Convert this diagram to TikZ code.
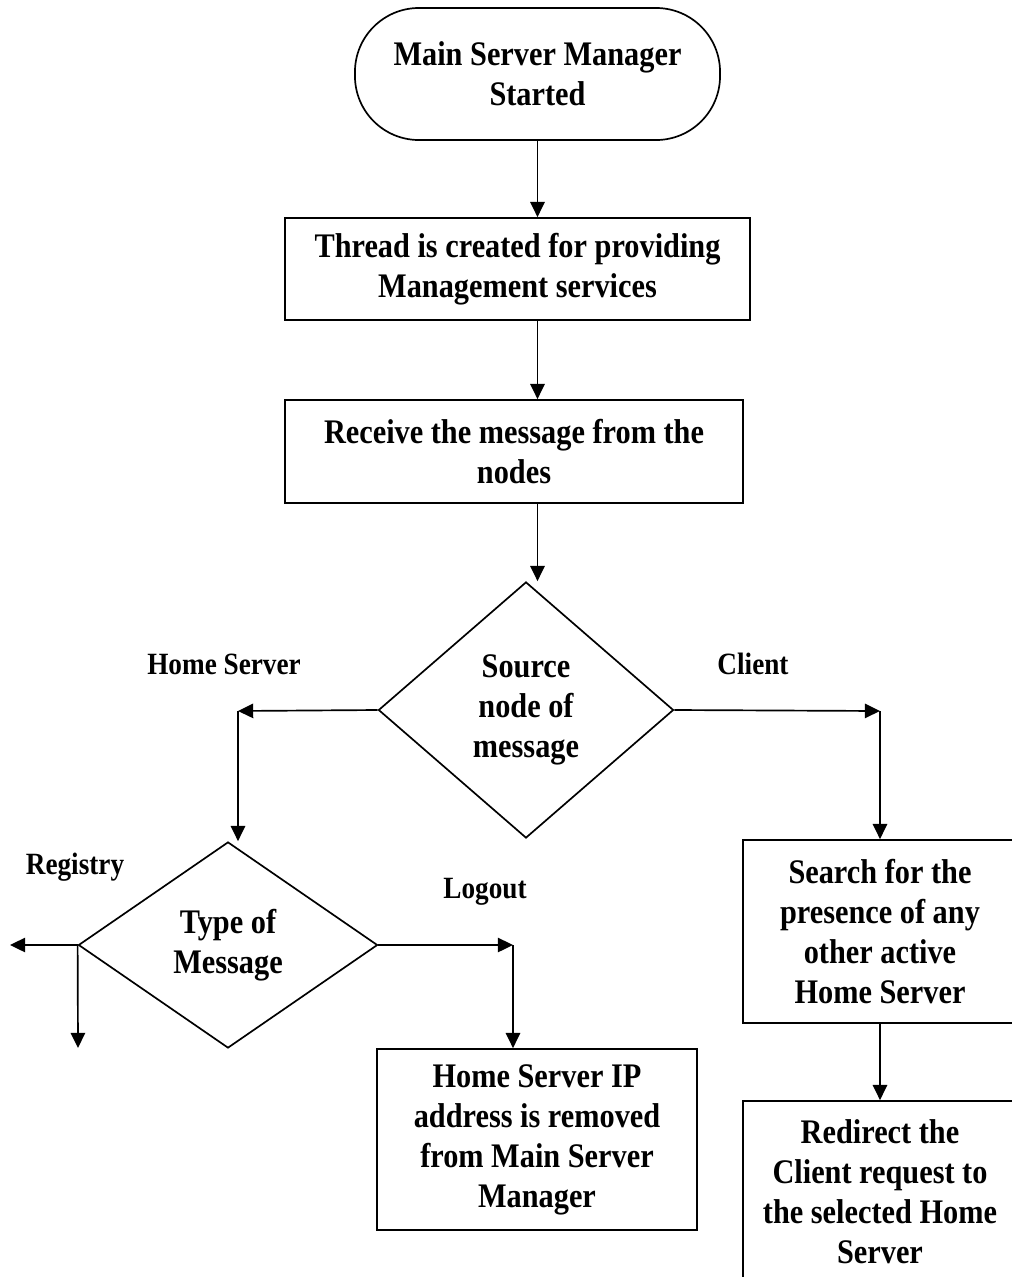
\documentclass[tikz,border=0pt]{standalone}
\usepackage{fontspec}
\setmainfont{Liberation Serif}[FakeStretch=0.88]
\usetikzlibrary{shapes.geometric,arrows.meta}

\begin{document}
\begin{tikzpicture}[x=0.025cm,y=-0.025cm,
  txt/.style={font=\fontsize{24.5}{28.5}\selectfont\bfseries, align=center, text=black},
  lbl/.style={font=\fontsize{22}{26}\selectfont\bfseries, text=black},
  procbox/.style={txt, draw=black, line width=1.2pt, rectangle, inner sep=0pt},
  termbox/.style={txt, draw=black, line width=1.2pt, rectangle, rounded corners=1.6cm, inner sep=0pt},
  decision/.style={txt, draw=black, line width=1.2pt, diamond, inner sep=0pt, aspect=1.2},
  arr/.style={line width=1.2pt, -{Triangle[length=0.38cm,width=0.36cm]}},
  ln/.style={line width=1.2pt}
]
\useasboundingbox (0,0) rectangle (1012,1277);
\fill[white] (0,0) rectangle (1012,1277);
\clip (0,0) rectangle (1012,1277);

% main column
\node[termbox, minimum width=9.125cm, minimum height=3.3cm] (start) at (537.5,74)
  {Main Server Manager\\Started};
\node[procbox, minimum width=11.625cm, minimum height=2.55cm] (thread) at (517.5,269)
  {Thread is created for providing\\Management services};
\node[procbox, minimum width=11.45cm, minimum height=2.575cm] (recv) at (514,451.5)
  {Receive the message from the\\nodes};
\node[decision, minimum width=7.375cm, minimum height=6.4cm] (src) at (526,710)
  {Source\\node of\\message};

% home server branch
\node[decision, aspect=1.45, minimum width=7.475cm, minimum height=5.15cm] (type) at (228,945)
  {Type of\\Message};
\node[procbox, minimum width=8cm, minimum height=4.525cm] (removed) at (537,1139.5)
  {Home Server IP\\address is removed\\from Main Server\\Manager};

% client branch
\node[procbox, minimum width=6.85cm, minimum height=4.575cm] (search) at (880,931.5)
  {Search for the\\presence of any\\other active\\Home Server};
\node[procbox, minimum width=6.85cm, minimum height=4.55cm] (redirect) at (880,1192)
  {Redirect the\\Client request to\\the selected Home\\Server};

% branch labels
\node[lbl] (lhome) at (224,664) {Home Server};
\node[lbl] (lclient) at (753,664) {Client};
\node[lbl] (lreg) at (75,867) {Registry};
\node[lbl] (llog) at (485,892) {Logout};

% bend points of the connectors
\coordinate (hs) at (238,711);
\coordinate (cl) at (880,711);
\coordinate (rgL) at (10,945);
\coordinate (rgD) at (78,1048);
\coordinate (lo) at (513,945);

% connectors
\draw[arr] (start.south) -- (thread.north -| start.south);
\draw[arr] (thread.south -| start.south) -- (recv.north -| start.south);
\draw[arr] (recv.south -| start.south) -- (src.north -| start.south);

\draw[arr] (src.west) -- (hs);
\draw[arr] (hs) -- (hs |- type.north);
\draw[arr] (src.east) -- (cl);
\draw[arr] (cl) -- (search.north);

\draw[arr] (type.west) -- (rgL);
\draw[arr] (type.west) -- (rgD);
\draw[arr] (type.east) -- (lo);
\draw[arr] (lo) -- (lo |- removed.north);

\draw[arr] (search.south) -- (redirect.north);
\end{tikzpicture}
\end{document}
